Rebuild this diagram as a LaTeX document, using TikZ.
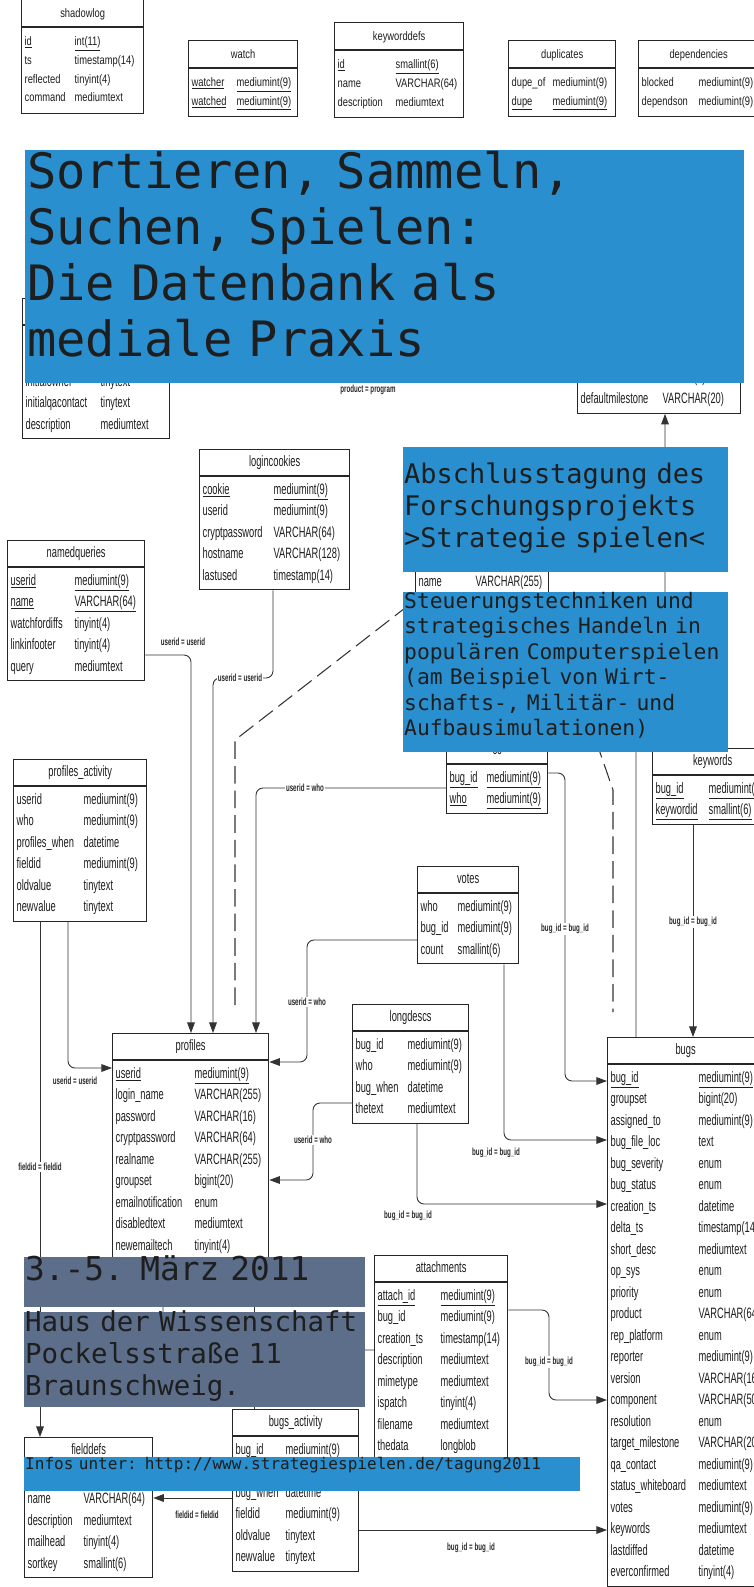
\documentclass[tikz,border=0pt]{standalone}
\usepackage{fontspec}
\setmainfont{Liberation Sans}
\newfontfamily\tabfont[FakeStretch=0.62]{Liberation Sans}
\newfontfamily\tabfonttop[FakeStretch=0.76]{Liberation Sans}
\newfontfamily\lblfont[FakeStretch=0.6]{Liberation Sans}
\newfontfamily\monofont{DejaVu Sans Mono}
\usetikzlibrary{arrows.meta, shapes.multipart, calc}
\newlength\px
\setlength\px{0.03cm}
\definecolor{posterblue}{RGB}{42,143,206}
\definecolor{slate}{RGB}{92,110,138}
\definecolor{ink}{RGB}{30,30,30}
\newcommand{\ttl}{\rule[-6\px]{0pt}{20\px}}
\newcommand{\ttltop}{\rule[-4\px]{0pt}{16\px}}
\newcommand{\dbrows}[2]{\makebox[\linewidth][l]{\begin{tabular}{@{}p{#1\px}@{}l@{}}#2\end{tabular}}}
\tikzset{
  dbtab/.style={rectangle split, rectangle split parts=2, draw=black!85, line width=1.1pt,
    fill=white, anchor=north west, inner xsep=0.09cm, inner ysep=0.075cm, align=center,
    text=ink, font=\tabfont\fontsize{12.8pt}{18.35pt}\selectfont},
  dbtop/.style={dbtab, inner ysep=0.15cm, font=\tabfonttop\fontsize{10.5pt}{16pt}\selectfont},
  rel/.style={draw=black!80, line width=0.75pt, rounded corners=6pt, -{Triangle[length=9pt,width=6.5pt]}},
  rellbl/.style={fill=white, inner sep=1pt, text=black!85, font=\lblfont\bfseries\fontsize{8.8pt}{10pt}\selectfont},
  dashrel/.style={draw=black!80, line width=0.9pt, dash pattern=on 15pt off 6pt},
  panel/.style={anchor=north west, inner sep=0pt},
  headtext/.style={anchor=north west, inner sep=0pt, align=left, text=ink}
}
\begin{document}
\begin{tikzpicture}[x=0.03cm, y=-0.03cm]
\useasboundingbox (0,0) rectangle (754,1587);
\clip (0,0) rectangle (754,1587);
\fill[white] (0,0) rectangle (754,1587);

% tables, top row
\node[dbtop, text width=3.48cm] (shadowlog) at (21,-1) {\ttltop shadowlog\nodepart{second}\dbrows{50}{\underline{id} & \underline{int(11)}\\ ts & timestamp(14)\\ reflected & tinyint(4)\\ command & mediumtext}};
\node[dbtop, text width=3.09cm] (watch) at (188,40) {\ttltop watch\nodepart{second}\dbrows{45}{\underline{watcher} & \underline{mediumint(9)}\\ \underline{watched} & \underline{mediumint(9)}}};
\node[dbtop, text width=3.69cm] (keyworddefs) at (334,22) {\ttltop keyworddefs\nodepart{second}\dbrows{58}{\underline{id} & \underline{smallint(6)}\\ name & VARCHAR(64)\\ description & mediumtext}};
\node[dbtop, text width=3.03cm] (duplicates) at (508,40) {\ttltop duplicates\nodepart{second}\dbrows{41}{dupe\_of & mediumint(9)\\ \underline{dupe} & \underline{mediumint(9)}}};
\node[dbtop, text width=3.42cm] (dependencies) at (638,40) {\ttltop dependencies\nodepart{second}\dbrows{57}{blocked & mediumint(9)\\ dependson & mediumint(9)}};

% tables, main schema
\node[dbtab, text width=4.23cm] (components) at (22,298) {\ttl\nodepart{second}\dbrows{75}{ & \\ & \\ initialowner & tinytext\\ initialqacontact & tinytext\\ description & mediumtext}};
\node[dbtab, text width=4.7cm] (products) at (577,337) {\ttl\nodepart{second}\dbrows{82}{votestoconfirm & smallint(6)\\ defaultmilestone & VARCHAR(20)}};
\node[dbtab, text width=3.81cm] (namebox) at (415,520) {\ttl\nodepart{second}\dbrows{57}{ & \\ name & VARCHAR(255)\\ & }};
\node[dbtab, text width=4.32cm] (logincookies) at (199,449) {\ttl logincookies\nodepart{second}\dbrows{71}{\underline{cookie} & \underline{mediumint(9)}\\ userid & mediumint(9)\\ cryptpassword & VARCHAR(64)\\ hostname & VARCHAR(128)\\ lastused & timestamp(14)}};
\node[dbtab, text width=3.93cm] (namedqueries) at (7,540) {\ttl namedqueries\nodepart{second}\dbrows{64}{\underline{userid} & \underline{mediumint(9)}\\ \underline{name} & \underline{VARCHAR(64)}\\ watchfordiffs & tinyint(4)\\ linkinfooter & tinyint(4)\\ query & mediumtext}};
\node[dbtab, text width=3.81cm] (profiles_activity) at (13,759) {\ttl profiles\_activity\nodepart{second}\dbrows{67}{userid & mediumint(9)\\ who & mediumint(9)\\ profiles\_when & datetime\\ fieldid & mediumint(9)\\ oldvalue & tinytext\\ newvalue & tinytext}};
\node[dbtab, text width=2.85cm] (cc) at (446,737) {\ttl cc\nodepart{second}\dbrows{37}{\underline{bug\_id} & \underline{mediumint(9)}\\ \underline{who} & \underline{mediumint(9)}}};
\node[dbtab, text width=3.42cm] (keywords) at (652,748) {\ttl keywords\nodepart{second}\dbrows{53}{\underline{bug\_id} & \underline{mediumint(9)}\\ \underline{keywordid} & \underline{smallint(6)}}};
\node[dbtab, text width=2.85cm] (votes) at (417,866) {\ttl votes\nodepart{second}\dbrows{37}{who & mediumint(9)\\ bug\_id & mediumint(9)\\ count & smallint(6)}};
\node[dbtab, text width=3.3cm] (longdescs) at (352,1004) {\ttl longdescs\nodepart{second}\dbrows{52}{bug\_id & mediumint(9)\\ who & mediumint(9)\\ bug\_when & datetime\\ thetext & mediumtext}};
\node[dbtab, text width=4.5cm] (profiles) at (112,1033) {\ttl profiles\nodepart{second}\dbrows{79}{\underline{userid} & \underline{mediumint(9)}\\ login\_name & VARCHAR(255)\\ password & VARCHAR(16)\\ cryptpassword & VARCHAR(64)\\ realname & VARCHAR(255)\\ groupset & bigint(20)\\ emailnotification & enum\\ disabledtext & mediumtext\\ newemailtech & tinyint(4)\\ & }};
\node[dbtab, text width=4.5cm] (bugs) at (607,1037) {\ttl bugs\nodepart{second}\dbrows{88}{\underline{bug\_id} & \underline{mediumint(9)}\\ groupset & bigint(20)\\ assigned\_to & mediumint(9)\\ bug\_file\_loc & text\\ bug\_severity & enum\\ bug\_status & enum\\ creation\_ts & datetime\\ delta\_ts & timestamp(14)\\ short\_desc & mediumtext\\ op\_sys & enum\\ priority & enum\\ product & VARCHAR(64)\\ rep\_platform & enum\\ reporter & mediumint(9)\\ version & VARCHAR(16)\\ component & VARCHAR(50)\\ resolution & enum\\ target\_milestone & VARCHAR(20)\\ qa\_contact & mediumint(9)\\ status\_whiteboard & mediumtext\\ votes & mediumint(9)\\ keywords & mediumtext\\ lastdiffed & datetime\\ everconfirmed & tinyint(4)}};
\node[dbtab, text width=3.81cm] (attachments) at (374,1255) {\ttl attachments\nodepart{second}\dbrows{63}{\underline{attach\_id} & \underline{mediumint(9)}\\ bug\_id & mediumint(9)\\ creation\_ts & timestamp(14)\\ description & mediumtext\\ mimetype & mediumtext\\ ispatch & tinyint(4)\\ filename & mediumtext\\ thedata & longblob\\ & }};
\node[dbtab, text width=3.6cm] (bugs_activity) at (232,1409) {\ttl bugs\_activity\nodepart{second}\dbrows{50}{bug\_id & mediumint(9)\\ & \\ bug\_when & datetime\\ fieldid & mediumint(9)\\ oldvalue & tinytext\\ newvalue & tinytext}};
\node[dbtab, text width=3.66cm] (fielddefs) at (24,1437) {\ttl fielddefs\nodepart{second}\dbrows{56}{ & \\ name & VARCHAR(64)\\ description & mediumtext\\ mailhead & tinyint(4)\\ sortkey & smallint(6)}};

% relations
\draw[rel] (components.east |- 0,360) -- (products.west |- 0,360);
\draw[rel] (namedqueries.east |- 0,655) -| (profiles.north -| 191,0);
\draw[rel] (logincookies.south -| 273,0) |- (243,678) -| (profiles.north -| 213,0);
\draw[rel] (cc.west |- 0,788) -| (profiles.north -| 256,0);
\draw[rel] (cc.east |- 0,773) -| (565,929) |- (bugs.west |- 0,1081);
\draw[rel] (votes.west |- 0,940) -| (307,1002) |- (profiles.east |- 0,1062);
\draw[rel] (votes.south -| 504,0) |- (bugs.west |- 0,1140);
\draw[rel] (longdescs.west |- 0,1103) -| (313,1140) |- (profiles.east |- 0,1180);
\draw[rel] (longdescs.south -| 417,0) |- (bugs.west |- 0,1204);
\draw[rel] (keywords.south -| 693,0) -- (bugs.north -| 693,0);
\draw[rel] (bugs.north -| 636,0) |- (650,700) -| (products.south -| 665,0);
\draw[rel] (profiles_activity.south -| 68,0) |- (profiles.west |- 0,1068);
\draw[rel] (profiles_activity.south -| 40,0) -- (fielddefs.north -| 40,0);
\draw[rel] (attachments.east |- 0,1310) -| (549,1362) |- (bugs.west |- 0,1400);
\draw[rel] (attachments.west |- 0,1350) -| (profiles.south -| 163,0);
\draw[rel] (bugs_activity.north -| 254,0) -- (profiles.south -| 254,0);
\draw[rel] (bugs_activity.west |- 0,1498) -- (fielddefs.east |- 0,1498);
\draw[rel] (bugs_activity.east |- 0,1530) -- (bugs.west |- 0,1530);
\coordinate (dashA) at (235,1005);
\coordinate (dashB) at (613,1012);
\draw[dashrel] (dashA) -- (235,740) -- (405,608) -- (595,738) -- (613,790) -- (dashB);

\node[rellbl] (lblprod) at (368,390) {product = program};
\node[rellbl] (lblnq) at (183,642) {userid = userid};
\node[rellbl] (lbllc) at (240,678) {userid = userid};
\node[rellbl] (lblcc) at (305,788) {userid = who};
\node[rellbl] (lblccbug) at (565,929) {bug\_id = bug\_id};
\node[rellbl] (lblkw) at (693,922) {bug\_id = bug\_id};
\node[rellbl] (lblvotes) at (307,1002) {userid = who};
\node[rellbl] (lblvotesbug) at (496,1153) {bug\_id = bug\_id};
\node[rellbl] (lblld) at (313,1140) {userid = who};
\node[rellbl] (lblldbug) at (408,1216) {bug\_id = bug\_id};
\node[rellbl] (lblpa) at (75,1081) {userid = userid};
\node[rellbl] (lblfield) at (40,1167) {fieldid = fieldid};
\node[rellbl] (lblatt) at (549,1362) {bug\_id = bug\_id};
\node[rellbl] (lblbafield) at (197,1515) {fieldid = fieldid};
\node[rellbl] (lblbabug) at (471,1548) {bug\_id = bug\_id};

% poster panels
\node[panel, fill=posterblue, minimum width=21.57cm, minimum height=6.99cm] (titlebox) at (25,150) {};
\node[headtext, text width=21cm, font=\monofont\fontsize{41.6pt}{47.8pt}\selectfont] (titletext) at (27,148) {\rule{0pt}{40\px}Sortieren, Sammeln,\\Suchen, Spielen:\\Die Datenbank als\\mediale Praxis};
\node[panel, fill=posterblue, minimum width=9.75cm, minimum height=3.75cm] (eventbox) at (403,447) {};
\node[headtext, text width=9.7cm, font=\monofont\fontsize{23pt}{27.3pt}\selectfont] (eventtext) at (404,459) {\rule{0pt}{24\px}Abschlusstagung des\\Forschungsprojekts\\>Strategie spielen<};
\node[panel, fill=posterblue, minimum width=9.75cm, minimum height=4.8cm] (topicbox) at (403,592) {};
\node[headtext, text width=9.7cm, font=\monofont\fontsize{18.2pt}{21.8pt}\selectfont] (topictext) at (404,590) {\rule{0pt}{18\px}Steuerungstechniken und\\strategisches Handeln in\\populären Computerspielen\\(am Beispiel von Wirt-\\schafts-, Militär- und\\Aufbausimulationen)};
\node[panel, fill=slate, minimum width=10.23cm, minimum height=1.5cm] (datebox) at (24,1257) {};
\node[headtext, text width=10cm, font=\monofont\fontsize{28pt}{32pt}\selectfont] (datetext) at (25,1253) {\rule{0pt}{27\px}3.-5. März 2011};
\node[panel, fill=slate, minimum width=10.23cm, minimum height=2.85cm] (placebox) at (24,1312) {};
\node[headtext, text width=10.5cm, font=\monofont\fontsize{23.4pt}{27.3pt}\selectfont] (placetext) at (25,1309) {\rule{0pt}{22\px}Haus der Wissenschaft\\Pockelsstraße 11\\Braunschweig.};
\node[panel, fill=posterblue, minimum width=16.68cm, minimum height=1.02cm] (infobox) at (24,1457) {};
\node[headtext, text width=16.5cm, font=\monofont\fontsize{13.7pt}{16pt}\selectfont] (infotext) at (25,1456) {\rule{0pt}{13\px}Infos unter: http://www.strategiespielen.de/tagung2011};
\end{tikzpicture}
\end{document}
